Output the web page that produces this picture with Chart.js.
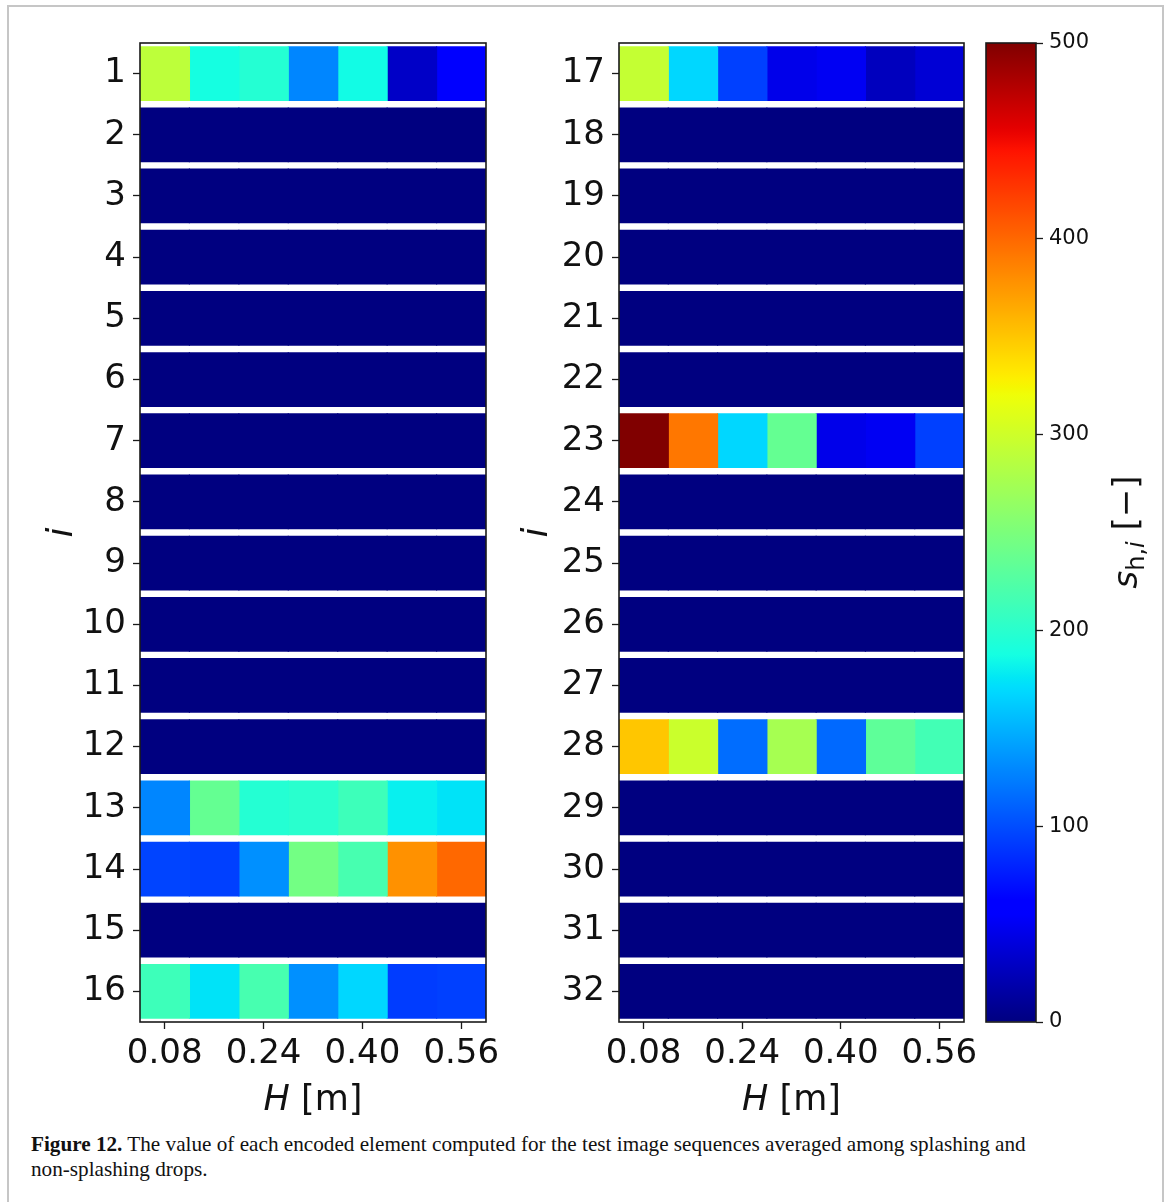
<!DOCTYPE html>
<html><head><meta charset="utf-8">
<script src="https://cdn.jsdelivr.net/npm/chart.js@4.4.1/dist/chart.umd.min.js"></script>
<style>
html,body{margin:0;padding:0;background:#fff;}
#page{position:relative;width:1170px;height:1202px;overflow:hidden;background:#fff;}
#frame{position:absolute;left:7px;top:5px;width:1157px;height:1240px;border:2px solid #c6c6c6;border-bottom:none;box-sizing:border-box;}
canvas{position:absolute;top:0;}
#caption{position:absolute;left:31px;top:1132px;font-family:"Liberation Serif","DejaVu Serif",serif;font-size:21.2px;line-height:25px;color:#111;white-space:nowrap;}
</style></head>
<body><div id="page"><div id="frame"></div>
<canvas id="left" width="520" height="1130" style="left:0px"></canvas>
<canvas id="right" width="520" height="1130" style="left:480px"></canvas>
<canvas id="cbar" width="200" height="1130" style="left:960px"></canvas>
<div id="caption"><b>Figure 12.</b> The value of each encoded element computed for the test image sequences averaged among splashing and<br>non-splashing drops.</div>
</div>
<script>
// ---------- data ----------
const hValues = [0.08, 0.16, 0.24, 0.32, 0.40, 0.48, 0.56];
const xTickValues = [0.08, 0.24, 0.40, 0.56];
const rowsLeft = ['1','2','3','4','5','6','7','8','9','10','11','12','13','14','15','16'];
const rowsRight = ['17','18','19','20','21','22','23','24','25','26','27','28','29','30','31','32'];
const valuesLeft = [
  [290, 188, 197, 128, 186, 31, 58],
  [0, 0, 0, 0, 0, 0, 0],
  [0, 0, 0, 0, 0, 0, 0],
  [0, 0, 0, 0, 0, 0, 0],
  [0, 0, 0, 0, 0, 0, 0],
  [0, 0, 0, 0, 0, 0, 0],
  [0, 0, 0, 0, 0, 0, 0],
  [0, 0, 0, 0, 0, 0, 0],
  [0, 0, 0, 0, 0, 0, 0],
  [0, 0, 0, 0, 0, 0, 0],
  [0, 0, 0, 0, 0, 0, 0],
  [0, 0, 0, 0, 0, 0, 0],
  [128, 236, 197, 200, 212, 180, 174],
  [96, 94, 133, 245, 218, 378, 400],
  [0, 0, 0, 0, 0, 0, 0],
  [212, 174, 218, 133, 168, 92, 94]
];
const valuesRight = [
  [294, 168, 94, 46, 50, 27, 37],
  [0, 0, 0, 0, 0, 0, 0],
  [0, 0, 0, 0, 0, 0, 0],
  [0, 0, 0, 0, 0, 0, 0],
  [0, 0, 0, 0, 0, 0, 0],
  [0, 0, 0, 0, 0, 0, 0],
  [500, 392, 168, 236, 46, 50, 94],
  [0, 0, 0, 0, 0, 0, 0],
  [0, 0, 0, 0, 0, 0, 0],
  [0, 0, 0, 0, 0, 0, 0],
  [0, 0, 0, 0, 0, 0, 0],
  [350, 298, 116, 276, 114, 232, 215],
  [0, 0, 0, 0, 0, 0, 0],
  [0, 0, 0, 0, 0, 0, 0],
  [0, 0, 0, 0, 0, 0, 0],
  [0, 0, 0, 0, 0, 0, 0]
];
const colorbarTicks = [0, 100, 200, 300, 400, 500];
const vMin = 0, vMax = 500;

// ---------- jet colormap ----------
const JR = [[0,0],[0.35,0],[0.66,1],[0.89,1],[1,0.5]];
const JG = [[0,0],[0.125,0],[0.375,1],[0.64,1],[0.91,0],[1,0]];
const JB = [[0,0.5],[0.11,1],[0.34,1],[0.65,0],[1,0]];
function seg(s, t){
  for (let i = 1; i < s.length; i++){
    if (t <= s[i][0]){ const a = s[i-1], b = s[i]; return a[1] + (b[1]-a[1])*(t-a[0])/(b[0]-a[0]); }
  }
  return s[s.length-1][1];
}
function jet(v){
  const t = Math.min(1, Math.max(0, (v - vMin)/(vMax - vMin)));
  return 'rgb(' + Math.round(255*seg(JR,t)) + ',' + Math.round(255*seg(JG,t)) + ',' + Math.round(255*seg(JB,t)) + ')';
}

Chart.defaults.font.family = "'DejaVu Sans', sans-serif";
Chart.defaults.color = '#111';

const half = (hValues[1] - hValues[0]) / 2;

const framePlugin = {
  id: 'frame',
  afterDraw(chart){
    const a = chart.chartArea, c = chart.ctx;
    c.save(); c.strokeStyle = '#1a1a1a'; c.lineWidth = 1.6;
    c.strokeRect(a.left, a.top, a.right - a.left, a.bottom - a.top);
    c.restore();
  }
};

const titlePlugin = {
  id: 'titles',
  afterDraw(chart, args, opts){
    const a = chart.chartArea, c = chart.ctx;
    c.save(); c.fillStyle = '#111'; c.textBaseline = 'alphabetic';
    const fi = "italic 35px 'DejaVu Sans'", fn = "35px 'DejaVu Sans'";
    c.font = fi; const w1 = c.measureText('H').width;
    c.font = fn; const w2 = c.measureText(' [m]').width;
    let x0 = (a.left + a.right)/2 - (w1 + w2)/2;
    const yb = opts.xTitleY;
    c.font = fi; c.fillText('H', x0, yb);
    c.font = fn; c.fillText(' [m]', x0 + w1, yb);
    c.translate(opts.yTitleX, (a.top + a.bottom)/2);
    c.rotate(-Math.PI/2);
    c.font = "italic 36px 'DejaVu Sans'"; c.textAlign = 'center';
    c.fillText('i', 0, 12);
    c.restore();
  }
};

function panelDatasets(values){
  return hValues.map((h, j) => ({
    data: values.map(() => [h - half, h + half]),
    backgroundColor: values.map(r => jet(r[j])),
    borderWidth: 0,
    inflateAmount: 0.6,
    grouped: false,
    barPercentage: 0.875,
    categoryPercentage: 1
  }));
}

function panelChart(id, labels, values, padRight, yWidth, yTitleX){
  return new Chart(document.getElementById(id), {
    type: 'bar',
    data: { labels: labels, datasets: panelDatasets(values) },
    options: {
      indexAxis: 'y', responsive: false, animation: false, devicePixelRatio: 1,
      layout: { padding: { top: 43, right: padRight, left: 0, bottom: 0 } },
      plugins: { legend: { display: false }, tooltip: { enabled: false },
                 titles: { xTitleY: 1110, yTitleX: yTitleX } },
      scales: {
        x: {
          type: 'linear', min: hValues[0] - half, max: hValues[hValues.length-1] + half,
          afterBuildTicks: s => { s.ticks = xTickValues.map(v => ({ value: v })); },
          afterFit: s => { s.height = 108; s.paddingLeft = 0; s.paddingRight = 0; },
          grid: { display: true, drawOnChartArea: false, tickLength: 7, tickWidth: 1.3, color: '#1a1a1a' },
          border: { display: false },
          ticks: { font: { size: 34 }, color: '#111', padding: 5, maxRotation: 0, autoSkip: false,
                   callback: v => Number(v).toFixed(2) }
        },
        y: {
          type: 'category',
          afterFit: s => { s.width = yWidth; s.paddingTop = 0; s.paddingBottom = 0; },
          grid: { offset: false, drawOnChartArea: false, tickLength: 7, tickWidth: 1.3, color: '#1a1a1a' },
          border: { display: false },
          ticks: { font: { size: 34 }, color: '#111', padding: 7, autoSkip: false }
        }
      }
    },
    plugins: [framePlugin, titlePlugin]
  });
}

panelChart('left', rowsLeft, valuesLeft, 34, 140, 60);
panelChart('right', rowsRight, valuesRight, 36, 139, 55);

const cbarLabelPlugin = {
  id: 'cbarLabel',
  afterDraw(chart){
    const c = chart.ctx;
    c.save(); c.fillStyle = '#111'; c.textBaseline = 'alphabetic';
    c.translate(165, 532); c.rotate(-Math.PI/2);
    const parts = [
      { t: 's', f: "italic 34px 'DejaVu Sans'", dy: 0 },
      { t: 'h,', f: "24px 'DejaVu Sans'", dy: 7 },
      { t: 'i', f: "italic 24px 'DejaVu Sans'", dy: 7 },
      { t: ' [\u2212]', f: "34px 'DejaVu Sans'", dy: 0 }
    ];
    let tot = 0;
    parts.forEach(p => { c.font = p.f; p.w = c.measureText(p.t).width; tot += p.w; });
    let x = -tot/2;
    parts.forEach(p => { c.font = p.f; c.fillText(p.t, x, 12 + p.dy); x += p.w; });
    c.restore();
  }
};

new Chart(document.getElementById('cbar'), {
  type: 'bar',
  data: { labels: [''], datasets: [{
    data: [[vMin, vMax]],
    backgroundColor: ctx => {
      const a = ctx.chart.chartArea; if (!a) return '#000080';
      const g = ctx.chart.ctx.createLinearGradient(0, a.bottom, 0, a.top);
      const n = 128;
      for (let i = 0; i <= n; i++) g.addColorStop(i/n, jet(vMin + (vMax - vMin)*i/n));
      return g;
    },
    borderWidth: 0, barPercentage: 1, categoryPercentage: 1
  }]},
  options: {
    responsive: false, animation: false, devicePixelRatio: 1,
    layout: { padding: { top: 43, left: 26, bottom: 108, right: 0 } },
    plugins: { legend: { display: false }, tooltip: { enabled: false } },
    scales: {
      x: { display: false },
      y: {
        position: 'right', min: vMin, max: vMax,
        afterBuildTicks: s => { s.ticks = colorbarTicks.map(v => ({ value: v })); },
        afterFit: s => { s.width = 124; s.paddingTop = 0; s.paddingBottom = 0; },
        grid: { drawOnChartArea: false, tickLength: 7, tickWidth: 1.3, color: '#1a1a1a' },
        border: { display: false },
        ticks: { font: { size: 21 }, color: '#111', padding: 6 }
      }
    }
  },
  plugins: [framePlugin, cbarLabelPlugin]
});
</script>
</body></html>
